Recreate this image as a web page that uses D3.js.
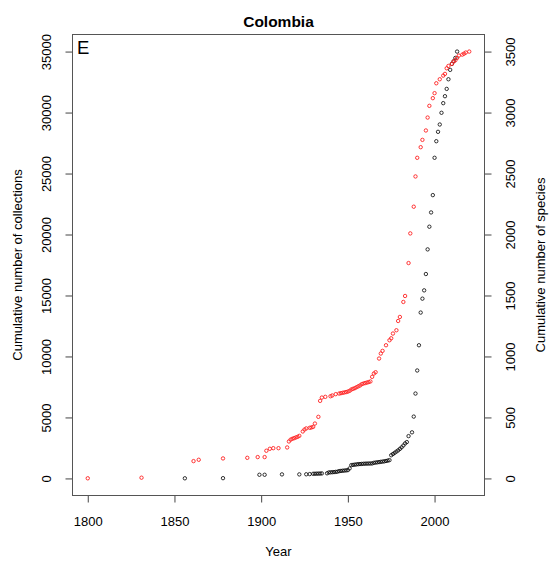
<!DOCTYPE html>
<html>
<head>
<meta charset="utf-8">
<script src="https://cdn.jsdelivr.net/npm/d3@7"></script>
<style>
  body { margin: 0; background: #fff; }
  text { font-family: "Liberation Sans", Arial, sans-serif; fill: #000; }
</style>
</head>
<body>
<svg id="chart" width="553" height="566"></svg>
<script>
// Cumulative herbarium collections per year (left axis, black)
const collectionYears = [1856,1878,1899,1902,1912,1922,1926,1928,1930,1931,1932,1933,1934,1935,1938,1939,1940,1941,1942,1943,1944,1945,1946,1947,1948,1949,1950,1951,1952,1953,1954,1955,1956,1957,1958,1959,1960,1961,1962,1963,1964,1965,1966,1967,1968,1969,1970,1971,1972,1973,1974,1975,1976,1977,1978,1979,1980,1981,1982,1983,1984,1985,1987,1988,1989,1990,1991,1992,1993,1994,1995,1996,1997,1998,1999,2000,2001,2002,2003,2004,2005,2006,2007,2008,2009,2010,2011,2012,2013];
const collections = [10,20,300,300,330,330,340,355,380,385,390,395,400,410,420,490,500,510,520,535,550,600,615,630,645,660,680,820,1090,1110,1130,1150,1170,1180,1190,1200,1210,1215,1220,1225,1230,1280,1300,1320,1340,1360,1380,1400,1430,1460,1500,1900,2000,2100,2200,2300,2420,2550,2700,2870,2980,3470,3780,5070,6960,8850,10920,13600,14740,15420,16760,18780,20640,21810,23230,26290,27650,28420,29020,29980,30770,31340,31940,32730,33500,33990,34210,34480,35000];

// Cumulative number of species recorded per year (right axis, red)
const speciesYears = [1800,1831,1861,1864,1878,1892,1898,1902,1903,1905,1907,1910,1915,1916,1917,1918,1919,1920,1921,1922,1924,1925,1926,1928,1929,1930,1931,1933,1934,1935,1937,1940,1941,1943,1945,1946,1947,1948,1949,1950,1951,1952,1953,1954,1955,1956,1957,1958,1959,1960,1961,1962,1963,1964,1965,1966,1968,1969,1970,1972,1974,1975,1976,1978,1979,1980,1982,1983,1985,1986,1988,1989,1990,1992,1993,1995,1996,1997,1999,2000,2001,2003,2005,2006,2007,2008,2010,2011,2012,2013,2014,2016,2017,2018,2020];
const species = [1,6,142,153,164,169,175,175,227,243,248,248,254,303,318,325,330,336,341,349,385,401,410,415,418,423,450,505,636,663,669,674,680,691,696,699,702,705,708,712,718,729,735,740,748,755,762,773,778,782,786,790,795,833,860,871,983,1024,1046,1092,1133,1149,1188,1215,1291,1324,1447,1496,1766,2009,2228,2476,2629,2716,2776,2853,2959,3055,3118,3159,3240,3273,3303,3317,3363,3382,3399,3418,3429,3448,3467,3475,3483,3492,3500];

const yearTicks = [1800, 1850, 1900, 1950, 2000];
const collectionTicks = [0, 5000, 10000, 15000, 20000, 25000, 30000, 35000];
const speciesTicks = [0, 500, 1000, 1500, 2000, 2500, 3000, 3500];

const chartTitle = "Colombia";
const panelLetter = "E";
const xTitle = "Year";
const yLeftTitle = "Cumulative number of collections";
const yRightTitle = "Cumulative number of species";

// Plot region
const plotLeft = 72.5, plotRight = 484.5, plotTop = 34.5, plotBottom = 495.5;

// Pad each data range by 4% on both sides
function padded(values) {
  const [lo, hi] = d3.extent(values);
  const r = hi - lo;
  return [lo - 0.04 * r, hi + 0.04 * r];
}

const x = d3.scaleLinear()
  .domain(padded(collectionYears.concat(speciesYears)))
  .range([plotLeft, plotRight]);
const yC = d3.scaleLinear().domain(padded([0, d3.max(collections)])).range([plotBottom, plotTop]);
const yS = d3.scaleLinear().domain(padded([0, d3.max(species)])).range([plotBottom, plotTop]);

const svg = d3.select("#chart");

// Axes
const tickLen = 7;
const axisColor = "#444";

const gx = svg.append("g").attr("transform", `translate(0,${plotBottom})`)
  .call(d3.axisBottom(x).tickValues(yearTicks).tickFormat(d3.format("d")).tickSize(tickLen));
const gl = svg.append("g").attr("transform", `translate(${plotLeft},0)`)
  .call(d3.axisLeft(yC).tickValues(collectionTicks).tickFormat(d3.format("d")).tickSize(tickLen));
const gr = svg.append("g").attr("transform", `translate(${plotRight},0)`)
  .call(d3.axisRight(yS).tickValues(speciesTicks).tickFormat(d3.format("d")).tickSize(tickLen));

[gx, gl, gr].forEach(g => {
  g.select(".domain").remove();
  g.selectAll(".tick line").attr("stroke", axisColor);
  g.selectAll(".tick text").attr("font-size", 13).attr("fill", "#111")
    .attr("font-family", "Liberation Sans, Arial, sans-serif");
});
gx.selectAll(".tick text").attr("y", 25.5).attr("dy", null)
  .attr("dominant-baseline", "central");
gl.selectAll(".tick text")
  .attr("x", null).attr("dy", null)
  .attr("text-anchor", "middle").attr("dominant-baseline", "central")
  .attr("transform", `translate(${46.7 - plotLeft},0) rotate(-90)`);
gr.selectAll(".tick text")
  .attr("x", null).attr("dy", null)
  .attr("text-anchor", "middle").attr("dominant-baseline", "central")
  .attr("transform", `translate(${510 - plotRight},0) rotate(-90)`);

// Plot frame
svg.append("rect")
  .attr("x", plotLeft).attr("y", plotTop)
  .attr("width", plotRight - plotLeft).attr("height", plotBottom - plotTop)
  .attr("fill", "none").attr("stroke", "#555").attr("stroke-width", 1);

// Points: open circles
const collData = collectionYears.map((yr, i) => ({ yr, v: collections[i] }));
const specData = speciesYears.map((yr, i) => ({ yr, v: species[i] }));

svg.append("g").selectAll("circle").data(collData).join("circle")
  .attr("cx", d => x(d.yr)).attr("cy", d => yC(d.v)).attr("r", 1.7)
  .attr("fill", "none").attr("stroke", "#000").attr("stroke-width", 0.8);

svg.append("g").selectAll("circle").data(specData).join("circle")
  .attr("cx", d => x(d.yr)).attr("cy", d => yS(d.v)).attr("r", 1.7)
  .attr("fill", "none").attr("stroke", "#ff2020").attr("stroke-width", 0.9);

// Titles
svg.append("text").attr("x", (plotLeft + plotRight) / 2).attr("y", 21)
  .attr("text-anchor", "middle").attr("dominant-baseline", "central")
  .attr("font-size", 15.5).attr("font-weight", "bold").text(chartTitle);

svg.append("text").attr("x", (plotLeft + plotRight) / 2).attr("y", 551)
  .attr("text-anchor", "middle").attr("dominant-baseline", "central")
  .attr("font-size", 13).text(xTitle);

svg.append("text")
  .attr("transform", `translate(17,${(plotTop + plotBottom) / 2}) rotate(-90)`)
  .attr("text-anchor", "middle").attr("dominant-baseline", "central")
  .attr("font-size", 13).text(yLeftTitle);

svg.append("text")
  .attr("transform", `translate(540,${(plotTop + plotBottom) / 2}) rotate(-90)`)
  .attr("text-anchor", "middle").attr("dominant-baseline", "central")
  .attr("font-size", 13).text(yRightTitle);

// Panel letter
svg.append("text").attr("x", 77).attr("y", 53.5)
  .attr("font-family", "Open Sans, Noto Sans, sans-serif")
  .attr("font-size", 18.5).text(panelLetter);
</script>
</body>
</html>
